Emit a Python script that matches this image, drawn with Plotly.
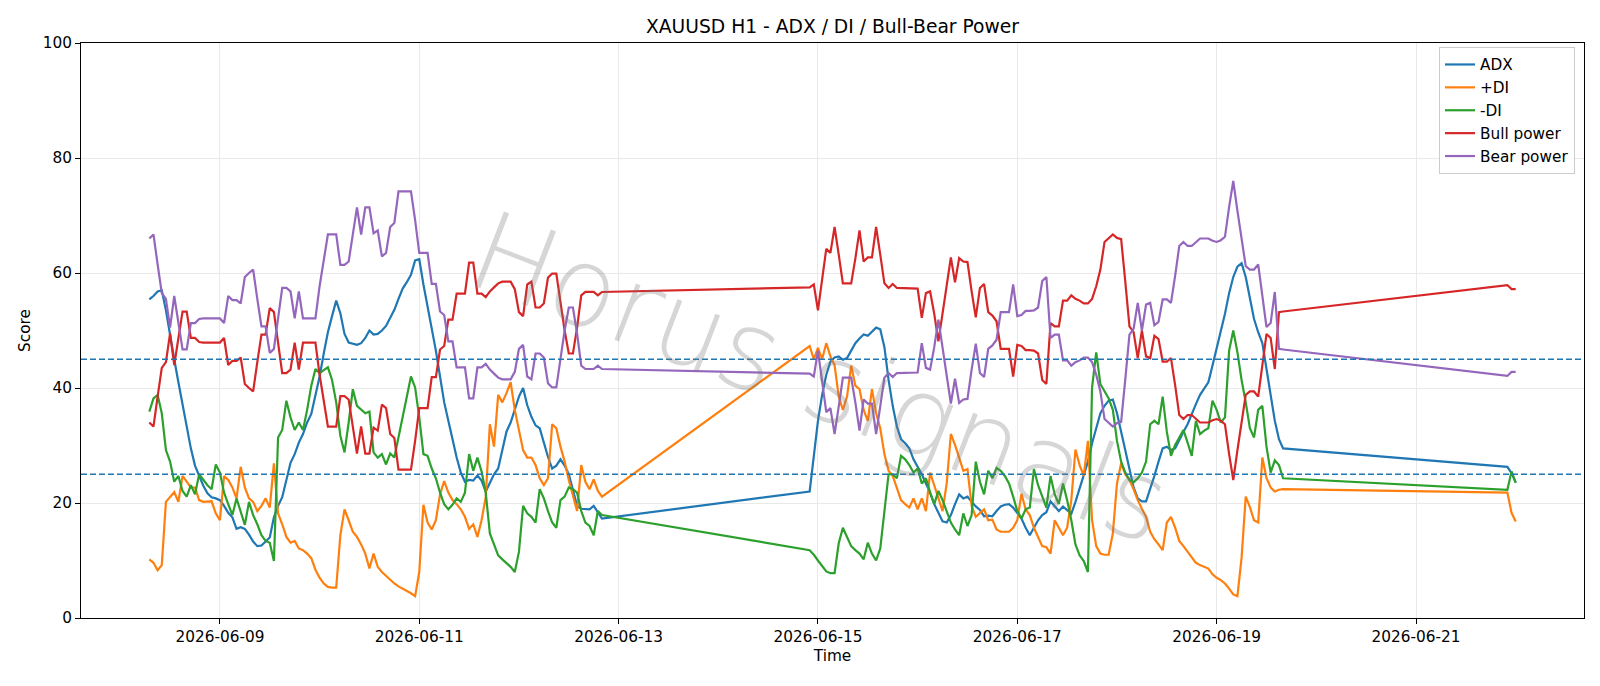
import pandas as pd
import plotly.graph_objects as go

# ---------------- data (hourly, three trading blocks) ----------------
block_starts = ["2026-06-08 07:00", "2026-06-14 22:00", "2026-06-21 22:00"]
block_lengths = [110, 115, 3]

adx = [
    55.4, 56.0, 56.8, 57.0, 53.5, 49.0, 45.0, 41.0, 37.0, 33.0,
    29.5, 26.5, 24.8, 23.0, 21.7, 21.0, 20.8, 20.5, 19.5, 18.3,
    17.5, 15.5, 15.8, 15.5, 14.5, 13.3, 12.5, 12.6, 13.3, 14.0,
    17.5, 19.5, 21.0, 24.0, 27.0, 28.5, 30.5, 32.0, 34.0, 35.5,
    38.5, 42.0, 46.0, 49.7, 52.5, 55.2, 53.0, 49.4, 47.9, 47.7,
    47.5, 47.8, 48.7, 50.0, 49.3, 49.4, 50.0, 50.8, 52.2, 53.6,
    55.5, 57.3, 58.4, 59.7, 62.2, 62.4, 58.0, 54.2, 50.7, 46.5,
    42.0, 37.5, 34.3, 31.1, 27.9, 25.3, 23.7, 24.0, 23.9, 24.8,
    23.9, 22.0, 23.5, 25.0, 26.0, 29.0, 32.4, 34.0, 36.2, 38.5,
    40.0, 37.0, 35.0, 33.5, 33.0, 30.5, 28.0, 26.0, 26.5, 27.6,
    26.5, 25.0, 22.4, 19.5, 19.0, 18.9, 18.9, 19.5, 18.5, 17.3,
    # block 2
    22.0, 28.5, 34.3, 38.8, 42.3, 44.6, 45.3, 45.5, 44.9, 45.2,
    46.5, 47.8, 48.6, 49.3, 49.1, 49.8, 50.5, 50.2, 47.1, 41.4,
    36.9, 33.3, 31.1, 30.4, 29.5, 27.6, 26.3, 25.0, 23.4, 21.8,
    19.8, 18.2, 16.8, 16.6, 17.9, 19.8, 21.5, 20.8, 21.1, 20.2,
    19.4, 18.8, 17.7, 17.8, 17.7, 18.6, 19.4, 19.7, 19.8, 19.2,
    18.2, 17.3, 15.7, 14.4, 15.7, 17.0, 17.9, 18.4, 20.3, 19.4,
    18.6, 19.4, 18.8, 18.1, 20.2, 22.4, 24.7, 27.2, 30.4, 33.0,
    35.6, 36.9, 37.8, 38.0, 35.6, 32.4, 29.2, 26.0, 22.7, 20.8,
    20.3, 20.3, 22.4, 24.7, 27.2, 29.5, 29.8, 29.2, 29.5, 31.1,
    32.4, 33.7, 35.6, 37.2, 38.8, 39.8, 41.0, 43.9, 46.8, 49.7,
    52.9, 56.5, 59.3, 61.1, 61.7, 59.3, 55.5, 52.0, 49.7, 47.8,
    43.3, 38.5, 34.3, 31.1, 29.5,
    # block 3
    26.3, 25.2, 23.6,
]

plus_di = [
    10.2, 9.6, 8.3, 9.2, 20.2, 21.1, 21.9, 20.2, 24.7, 23.7,
    22.7, 22.7, 20.5, 20.2, 20.2, 20.3, 18.2, 17.0, 24.7, 24.0,
    22.7, 20.8, 26.3, 22.7, 20.8, 20.2, 18.6, 19.5, 20.8, 19.2,
    26.9, 18.2, 16.3, 14.1, 13.1, 13.4, 12.1, 11.8, 11.2, 10.4,
    8.4, 7.0, 6.0, 5.4, 5.3, 5.3, 14.4, 18.9, 17.0, 15.0,
    14.1, 12.8, 11.2, 8.6, 11.2, 8.9, 8.0, 7.3, 6.7, 6.0,
    5.5, 5.1, 4.8, 4.3, 3.8, 8.0, 19.7, 16.6, 15.4, 17.0,
    21.5, 23.8, 21.8, 20.5, 19.8, 18.9, 17.6, 15.5, 16.3, 14.1,
    17.0, 21.0, 33.7, 29.8, 38.8, 37.5, 39.1, 41.0, 36.2, 32.4,
    29.2, 27.9, 27.9, 26.6, 24.3, 23.1, 24.3, 33.7, 33.0, 29.8,
    27.2, 24.0, 21.1, 18.6, 26.6, 23.7, 22.4, 24.1, 22.1, 21.1,
    # block 2
    47.3, 45.0, 47.0, 45.0, 47.8, 45.5, 44.0, 38.5, 36.2, 38.5,
    43.9, 40.4, 39.8, 36.2, 34.3, 39.8, 35.6, 33.0, 28.5, 25.6,
    24.7, 22.7, 20.5, 19.8, 19.2, 20.8, 18.9, 20.8, 18.6, 25.3,
    23.1, 20.8, 18.6, 23.4, 32.0, 30.1, 27.9, 25.6, 25.9, 19.5,
    17.6, 18.2, 18.9, 17.0, 17.1, 15.4, 15.0, 15.0, 15.0, 15.7,
    17.0, 21.6, 18.9, 17.9, 15.7, 14.1, 12.5, 12.3, 11.2, 17.0,
    15.7, 14.4, 15.7, 20.5, 29.3, 26.6, 24.7, 30.8, 17.0, 12.5,
    11.2, 11.0, 11.0, 14.7, 23.4, 26.9, 25.0, 24.0, 22.4, 20.5,
    19.0, 17.6, 15.0, 13.7, 12.8, 11.8, 16.6, 17.6, 15.7, 13.4,
    12.5, 11.5, 10.5, 9.6, 9.2, 8.9, 8.6, 7.6, 7.0, 6.6,
    6.0, 5.1, 4.1, 3.8, 10.5, 21.1, 19.3, 17.0, 16.6, 27.9,
    24.3, 22.7, 22.0, 22.3, 22.4,
    # block 3
    21.8, 18.3, 16.8,
]

minus_di = [
    35.9, 38.2, 38.8, 35.6, 29.2, 27.2, 23.7, 24.7, 22.1, 21.1,
    23.1, 21.5, 25.0, 24.0, 23.1, 22.4, 26.7, 25.3, 21.8, 19.8,
    17.9, 20.8, 18.6, 16.2, 20.2, 17.9, 16.3, 14.4, 13.4, 13.1,
    9.9, 31.4, 32.7, 37.8, 34.9, 32.7, 34.0, 32.7, 36.2, 40.4,
    43.3, 42.6, 43.1, 43.6, 41.4, 37.5, 31.7, 28.8, 34.0, 39.8,
    36.9, 36.2, 35.6, 35.9, 28.8, 27.9, 28.5, 26.7, 28.6, 27.9,
    31.4, 34.9, 38.5, 42.0, 40.1, 34.9, 28.5, 28.2, 26.0, 24.3,
    21.8, 19.8, 18.9, 19.7, 20.8, 20.2, 21.8, 28.5, 25.6, 27.9,
    25.5, 21.8, 14.7, 12.8, 10.9, 10.2, 9.6, 8.9, 8.0, 11.5,
    19.5, 18.2, 17.6, 16.6, 22.4, 20.8, 18.6, 16.6, 15.7, 20.5,
    21.1, 22.7, 22.4, 21.8, 18.6, 16.6, 16.0, 14.4, 18.6, 17.9,
    # block 2
    11.8, 11.0, 10.0, 9.0, 8.1, 7.8, 7.8, 13.0, 15.7, 14.1,
    12.5, 11.8, 11.2, 10.2, 13.1, 11.2, 10.0, 12.1, 18.9, 25.0,
    25.0, 24.3, 28.2, 27.6, 26.6, 25.3, 26.0, 23.4, 24.3, 21.8,
    19.8, 22.1, 20.5, 18.6, 16.6, 15.4, 14.4, 18.2, 16.0, 17.9,
    27.2, 23.7, 21.5, 25.6, 24.3, 26.1, 25.6, 24.7, 23.4, 21.1,
    18.6, 17.3, 18.9, 19.2, 25.9, 23.1, 21.1, 19.2, 24.7, 21.5,
    19.8, 23.4, 20.5, 17.0, 12.8, 10.9, 9.9, 8.0, 40.1, 46.2,
    40.7, 39.4, 38.2, 36.2, 30.8, 27.2, 25.3, 24.0, 23.6, 24.3,
    25.3, 27.2, 33.7, 34.3, 33.7, 38.5, 32.4, 28.2, 30.1, 31.4,
    32.7, 30.5, 28.2, 34.3, 32.0, 32.6, 33.0, 37.8, 36.2, 34.0,
    34.9, 46.5, 50.0, 46.2, 41.4, 37.5, 33.0, 31.4, 36.2, 36.9,
    29.8, 25.3, 27.4, 26.6, 24.3,
    # block 3
    22.3, 25.5, 23.5,
]

bull_power = [
    34.0, 33.3, 38.5, 43.5, 44.5, 49.5, 44.0, 48.5, 53.3, 53.3,
    48.7, 48.7, 48.0, 47.9, 47.9, 47.9, 47.9, 47.9, 48.7, 44.0,
    44.7, 44.7, 45.3, 40.7, 40.0, 39.4, 44.5, 49.3, 49.3, 53.9,
    53.2, 47.9, 42.6, 42.6, 43.2, 47.9, 43.2, 47.9, 47.9, 47.9,
    47.9, 42.3, 37.6, 33.3, 33.3, 33.3, 38.6, 38.6, 38.0, 33.3,
    28.6, 33.3, 28.6, 28.6, 33.1, 32.6, 37.1, 36.5, 32.0, 31.3,
    25.8, 25.8, 25.8, 25.8, 30.8, 36.5, 36.5, 36.5, 41.9, 41.9,
    46.7, 47.3, 51.9, 51.9, 56.4, 56.4, 56.4, 61.8, 61.8, 56.4,
    56.4, 55.8, 56.8, 57.5, 58.2, 58.5, 58.5, 58.5, 57.2, 53.2,
    52.5, 58.0, 58.5, 54.0, 54.0, 54.7, 59.2, 59.9, 59.9, 55.0,
    50.0, 46.0, 46.0, 50.5, 56.1, 56.7, 56.7, 56.7, 56.1, 56.7,
    # block 2
    57.5, 58.0, 53.5, 58.5, 64.2, 63.5, 68.0, 63.2, 58.2, 58.2,
    58.2, 62.5, 67.4, 62.0, 62.7, 62.7, 68.0, 63.2, 58.2, 57.4,
    58.1, 57.4, 57.4, 57.4, 57.4, 57.4, 57.3, 52.2, 56.5, 56.8,
    52.9, 48.1, 52.9, 58.1, 62.7, 58.4, 62.6, 62.0, 61.9, 56.8,
    52.3, 57.4, 58.1, 53.2, 52.6, 51.6, 46.8, 46.8, 46.8, 42.0,
    47.5, 47.3, 46.6, 46.6, 46.5, 46.0, 41.4, 40.7, 51.3, 50.7,
    50.7, 55.2, 55.2, 56.1, 55.5, 55.2, 54.7, 54.7, 55.5, 57.7,
    60.6, 65.4, 66.1, 66.7, 66.1, 65.9, 58.5, 50.7, 49.7, 45.2,
    50.0, 45.5, 45.2, 49.1, 48.5, 44.6, 44.6, 45.2, 40.5, 35.3,
    34.6, 35.3, 35.3, 34.6, 34.0, 34.0, 34.0, 34.4, 34.6, 34.3,
    33.7, 28.5, 24.0, 29.2, 34.3, 38.8, 39.4, 39.4, 38.5, 43.9,
    49.4, 48.7, 43.3, 53.2, 53.3,
    # block 3
    57.9, 57.2, 57.2,
]

bear_power = [
    66.0, 66.7, 61.5, 56.5, 55.5, 50.5, 56.0, 51.5, 46.7, 46.7,
    51.3, 51.3, 52.0, 52.1, 52.1, 52.1, 52.1, 52.1, 51.3, 56.0,
    55.3, 55.3, 54.7, 59.3, 60.0, 60.6, 55.5, 50.7, 50.7, 46.1,
    46.8, 52.1, 57.4, 57.4, 56.8, 52.1, 56.8, 52.1, 52.1, 52.1,
    52.1, 57.7, 62.4, 66.7, 66.7, 66.7, 61.4, 61.4, 62.0, 66.7,
    71.4, 66.7, 71.4, 71.4, 66.9, 67.4, 62.9, 63.5, 68.0, 68.7,
    74.2, 74.2, 74.2, 74.2, 69.2, 63.5, 63.5, 63.5, 58.1, 58.1,
    53.3, 52.7, 48.1, 48.1, 43.6, 43.6, 43.6, 38.2, 38.2, 43.6,
    43.6, 44.2, 43.2, 42.5, 41.8, 41.5, 41.5, 41.5, 42.8, 46.8,
    47.5, 42.0, 41.5, 46.0, 46.0, 45.3, 40.8, 40.1, 40.1, 45.0,
    50.0, 54.0, 54.0, 49.5, 43.9, 43.3, 43.3, 43.3, 43.9, 43.3,
    # block 2
    42.5, 42.0, 46.5, 41.5, 35.8, 36.5, 32.0, 36.8, 41.8, 41.8,
    41.8, 37.5, 32.6, 38.0, 37.3, 37.3, 32.0, 36.8, 41.8, 42.6,
    41.9, 42.6, 42.6, 42.6, 42.6, 42.6, 42.7, 47.8, 43.5, 43.2,
    47.1, 51.9, 47.1, 41.9, 37.3, 41.6, 37.4, 38.0, 38.1, 43.2,
    47.7, 42.6, 41.9, 46.8, 47.4, 48.4, 53.2, 53.2, 53.2, 58.0,
    52.5, 52.7, 53.4, 53.4, 53.5, 54.0, 58.6, 59.3, 48.7, 49.3,
    49.3, 44.8, 44.8, 43.9, 44.5, 44.8, 45.3, 45.3, 44.5, 42.3,
    39.4, 34.6, 33.9, 33.3, 33.9, 34.1, 41.5, 49.3, 50.3, 54.8,
    50.0, 54.5, 54.8, 50.9, 51.5, 55.4, 55.4, 54.8, 59.5, 64.7,
    65.4, 64.7, 64.7, 65.4, 66.0, 66.0, 66.0, 65.6, 65.4, 65.7,
    66.3, 71.5, 76.0, 70.8, 65.7, 61.2, 60.6, 60.6, 61.5, 56.1,
    50.6, 51.3, 56.7, 46.8, 46.7,
    # block 3
    42.1, 42.8, 42.8,
]

tick_labels = ["2026-06-09", "2026-06-11", "2026-06-13", "2026-06-15",
               "2026-06-17", "2026-06-19", "2026-06-21"]
y_ticks = [0, 20, 40, 60, 80, 100]
threshold_levels = [25, 45]

# ---------------- build time axis ----------------
times = []
for start, n in zip(block_starts, block_lengths):
    times.extend(pd.date_range(start, periods=n, freq="h"))

series = [
    ("ADX", adx, "#1f77b4"),
    ("+DI", plus_di, "#ff7f0e"),
    ("-DI", minus_di, "#2ca02c"),
    ("Bull power", bull_power, "#d62728"),
    ("Bear power", bear_power, "#9467bd"),
]

FONT = "DejaVu Sans, Arial, sans-serif"
FS = 15.3

fig = go.Figure()
for name, vals, color in series:
    fig.add_trace(go.Scatter(x=times, y=vals, mode="lines", name=name,
                             line=dict(color=color, width=2.2)))

t0, t1 = times[0], times[-1]
pad = (t1 - t0) * 0.05
x_range = [t0 - pad, t1 + pad]

for lvl in threshold_levels:
    fig.add_shape(type="line", xref="paper", x0=0, x1=1, yref="y", y0=lvl, y1=lvl,
                  line=dict(color="#1f77b4", width=1.4, dash="6px,3px"), layer="above")

# watermark
fig.add_annotation(text="Horus signals", xref="paper", yref="paper",
                   x=0.492, y=0.418, showarrow=False, textangle=21,
                   font=dict(family=FONT, size=110, color="rgba(120,120,120,0.30)", weight=200))

fig.update_layout(
    width=1600, height=686,
    margin=dict(l=81, r=16, t=43, b=68),
    paper_bgcolor="white", plot_bgcolor="white",
    font=dict(family=FONT, size=FS, color="black"),
    title=dict(text="XAUUSD H1 - ADX / DI / Bull-Bear Power", x=0.5, xref="paper",
               y=1 - 26 / 686, yref="container", yanchor="middle", xanchor="center",
               font=dict(size=18.7, color="black")),
    showlegend=True,
    legend=dict(x=0.994, y=0.993, xanchor="right", yanchor="top",
                bgcolor="rgba(255,255,255,0.85)", bordercolor="#cccccc", borderwidth=1,
                font=dict(size=FS), tracegroupgap=0, itemwidth=30),
    xaxis=dict(range=x_range, showgrid=True, gridcolor="#e9e9e9", gridwidth=1,
               tickvals=pd.to_datetime(tick_labels), ticktext=tick_labels,
               ticks="outside", ticklen=5, tickcolor="black", tickwidth=1,
               showline=True, linecolor="black", linewidth=1, mirror=True,
               zeroline=False,
               title=dict(text="Time", standoff=4, font=dict(size=FS))),
    yaxis=dict(range=[0, 100], tickvals=y_ticks, showgrid=True, gridcolor="#e9e9e9",
               gridwidth=1, ticks="outside", ticklen=5, tickcolor="black", tickwidth=1,
               showline=True, linecolor="black", linewidth=1, mirror=True,
               zeroline=False,
               title=dict(text="Score", standoff=8, font=dict(size=FS))),
)

fig.write_html("out.html")
